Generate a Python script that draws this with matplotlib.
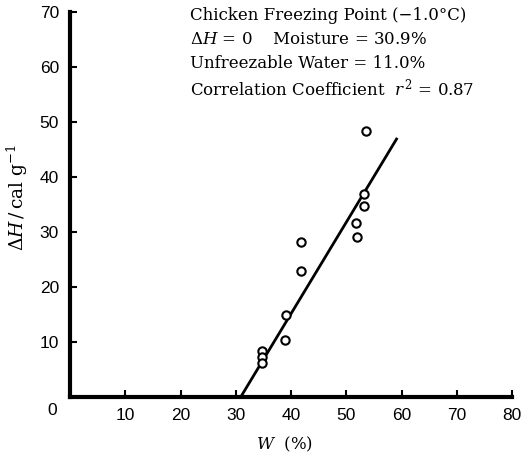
import matplotlib
matplotlib.use("Agg")
import matplotlib.pyplot as plt

# moisture W (%) and enthalpy dH (cal/g)
w_pts  = [53.5, 53.2, 53.3, 51.7, 51.9, 41.8, 41.8, 39.1, 39.0, 34.7, 34.7, 34.7]
dh_pts = [48.4, 36.9, 34.8, 31.7, 29.1, 28.1, 23.0, 15.0, 10.4, 8.4, 7.3, 6.1]

# regression line end points
w_fit  = [30.9, 59.1]
dh_fit = [0.0, 46.9]

xticks = [10, 20, 30, 40, 50, 60, 70, 80]
yticks = [10, 20, 30, 40, 50, 60, 70]

info = ["Chicken Freezing Point (\u22121.0\u00b0C)",
        r"$\Delta H$ = 0    Moisture = 30.9%",
        "Unfreezable Water = 11.0%",
        r"Correlation Coefficient  $r^{\,2}$ = 0.87"]

plt.rcParams['mathtext.fontset'] = 'dejavuserif'

fig = plt.figure(figsize=(5.22, 4.53), dpi=100)
ax = fig.add_axes([70/522, 56/453, 442/522, 385/453])

ax.plot(w_fit, dh_fit, color="black", lw=2.0, zorder=2)
ax.plot(w_pts, dh_pts, "o", ms=6, mfc="white", mec="black", mew=1.5, zorder=3)

ax.set_xlim(0, 80)
ax.set_ylim(0, 70)
for s in ["top", "right"]:
    ax.spines[s].set_visible(False)
for s in ["left", "bottom"]:
    ax.spines[s].set_linewidth(3)

ax.set_xticks(xticks)
ax.set_yticks(yticks)
ax.tick_params(direction="in", length=5, width=1.5, labelsize=12.5, pad=8)
for lab in ax.get_xticklabels() + ax.get_yticklabels():
    lab.set_family("Liberation Sans")
ax.text(-0.03, -0.015, "0", transform=ax.transAxes, ha="right", va="top",
        fontsize=12.5, family="Liberation Sans")

ax.set_xlabel(r"$W$  (%)", fontsize=12, family="DejaVu Serif")
ax.xaxis.set_label_coords((285 - 70)/442, -(435 - 397)/385)
ax.set_ylabel(r"$\Delta H\,/\,\mathrm{cal\ g^{-1}}$", fontsize=13.5)
ax.yaxis.set_label_coords(-(70 - 30)/442, (397 - 197)/385)

for i, t in enumerate(info):
    fig.text(190/522, 1 - (15 + 24.5 * i)/453, t, fontsize=12,
             family="DejaVu Serif", va="center", ha="left")

fig.savefig("out.png", dpi=100)
